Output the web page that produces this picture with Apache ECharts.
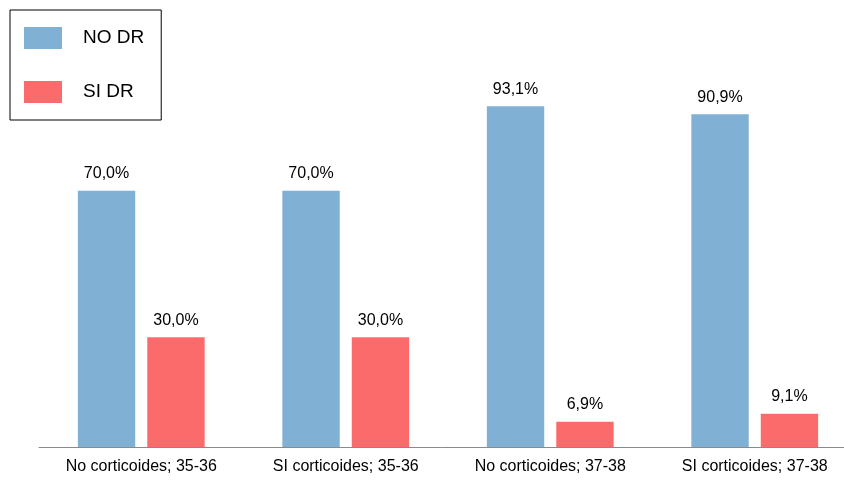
<!DOCTYPE html>
<html>
<head>
<meta charset="utf-8">
<script src="https://cdn.jsdelivr.net/npm/echarts@6/dist/echarts.min.js"></script>
<style>html,body{margin:0;padding:0;background:#fff;}#c{width:844px;height:483px;}</style>
</head>
<body>
<div id="c"></div>
<script>
const categories = ['No corticoides; 35-36', 'SI corticoides; 35-36', 'No corticoides; 37-38', 'SI corticoides; 37-38'];
const seriesNames = ['NO DR', 'SI DR'];
const noDR = [70.0, 70.0, 93.1, 90.9];
const siDR = [30.0, 30.0, 6.9, 9.1];

const chart = echarts.init(document.getElementById('c'), null, {renderer: 'canvas'});
const font = 'Liberation Sans, Arial, Helvetica, sans-serif';
const fmt = p => p.value.toFixed(1).replace('.', ',') + '%';
chart.setOption({
  animation: false,
  textStyle: {fontFamily: font},
  legend: {
    orient: 'vertical',
    left: 10, top: 10,
    padding: [17, 17, 17, 14],
    borderColor: '#000', borderWidth: 1,
    itemWidth: 38, itemHeight: 22, itemGap: 32,
    textStyle: {fontSize: 19, color: '#000', fontFamily: font, padding: [0, 0, 0, 16]},
    data: seriesNames,
    icon: 'rect'
  },
  grid: {left: 39, width: 818, top: 81, bottom: 36, containLabel: false, outerBoundsMode: 'none'},
  xAxis: {
    type: 'category',
    data: categories,
    axisLine: {lineStyle: {color: '#8a8a8a', width: 1}},
    axisTick: {show: false},
    axisLabel: {fontSize: 16, color: '#000', margin: 12, fontFamily: font, interval: 0}
  },
  yAxis: {
    type: 'value', min: 0, max: 100,
    show: false
  },
  series: [
    {name: seriesNames[0], type: 'bar', data: noDR, barGap: '21%', barCategoryGap: '38%',
     itemStyle: {color: '#80b0d3'},
     label: {show: true, position: 'top', distance: 9, fontSize: 16, color: '#000', fontFamily: font, formatter: fmt}},
    {name: seriesNames[1], type: 'bar', data: siDR,
     itemStyle: {color: '#fc6b6b'},
     label: {show: true, position: 'top', distance: 9, fontSize: 16, color: '#000', fontFamily: font, formatter: fmt}}
  ]
});
</script>
</body>
</html>
